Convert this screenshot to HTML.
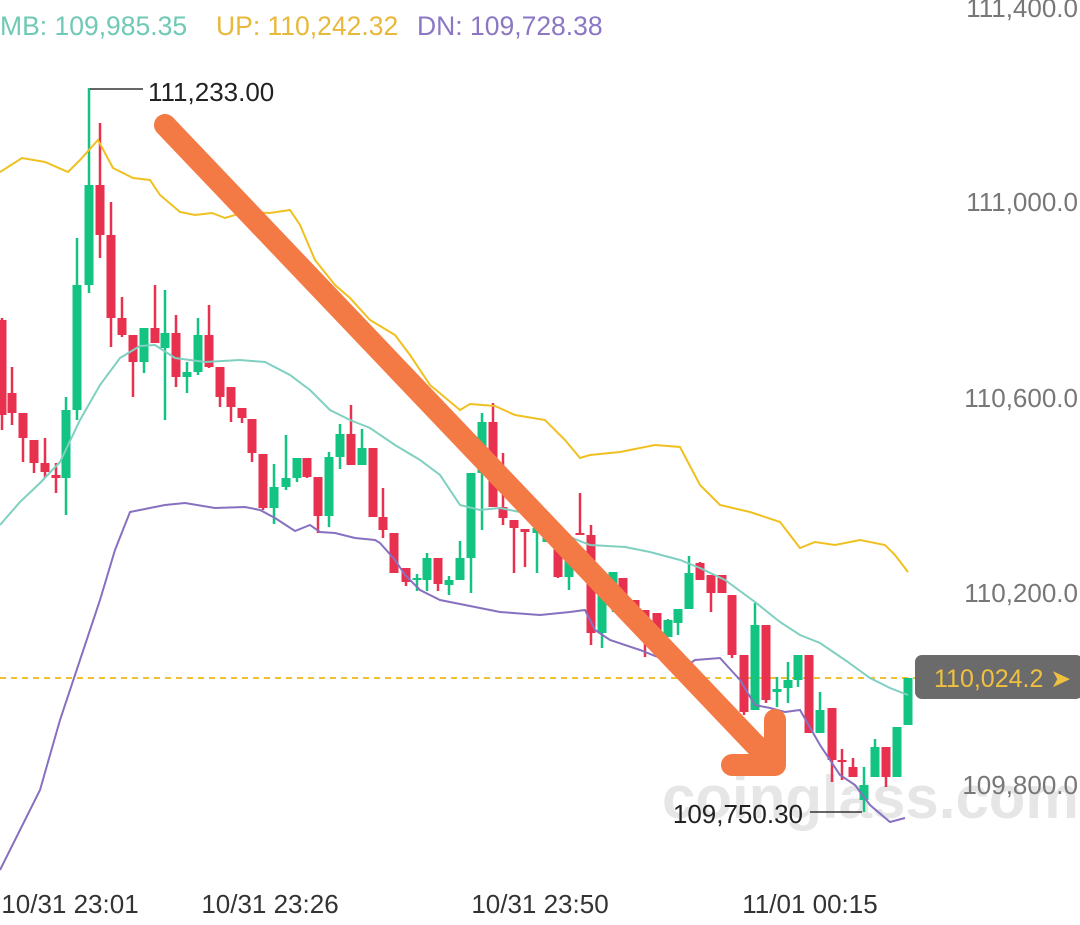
<!DOCTYPE html><html><head><style>body{margin:0;background:#fff;width:1080px;height:920px;overflow:hidden;font-family:"Liberation Sans",sans-serif}</style></head><body>
<svg id="s" width="1080" height="920" xmlns="http://www.w3.org/2000/svg" font-family="Liberation Sans, sans-serif">
<text x="662" y="818" font-size="60" font-weight="bold" fill="#e6e6e6">coinglass.com</text>
<line x1="0" y1="678" x2="915" y2="678" stroke="#f0c030" stroke-width="2" stroke-dasharray="6,5"/>
<g id="c"></g>
<polyline id="up" fill="none" stroke="#f0c020" stroke-width="2"/>
<polyline id="mb" fill="none" stroke="#7fd0c0" stroke-width="2"/>
<polyline id="dn" fill="none" stroke="#8870c0" stroke-width="2"/>
<g stroke="#f47a45" stroke-width="22" stroke-linecap="round" stroke-linejoin="round" fill="none">
<line x1="165" y1="125" x2="765" y2="755"/><polyline points="732,765 775,765 775,720"/></g>
<text x="0" y="35" font-size="26.5" fill="#6fc9b5">MB: 109,985.35</text>
<text x="216" y="35" font-size="26.5" fill="#e8b83a">UP: 110,242.32</text>
<text x="417" y="35" font-size="26.5" fill="#8b77c4">DN: 109,728.38</text>
<g font-size="26" fill="#777" text-anchor="end">
<text x="1078" y="17">111,400.0</text><text x="1078" y="211">111,000.0</text><text x="1078" y="407">110,600.0</text><text x="1078" y="602">110,200.0</text><text x="1078" y="794">109,800.0</text></g>
<g font-size="26" fill="#333" text-anchor="middle">
<text x="70" y="913">10/31 23:01</text><text x="270" y="913">10/31 23:26</text><text x="540" y="913">10/31 23:50</text><text x="810" y="913">11/01 00:15</text></g>
<line x1="90" y1="89" x2="143" y2="89" stroke="#333" stroke-width="1.5"/>
<text x="148" y="101" font-size="26" fill="#222">111,233.00</text>
<line x1="810" y1="812" x2="862" y2="812" stroke="#333" stroke-width="1.5"/>
<text x="803" y="823" font-size="26" fill="#222" text-anchor="end">109,750.30</text>
<rect x="915" y="655" width="168" height="44" rx="7" fill="#6b6b6b"/>
<text x="934" y="687" font-size="25" fill="#f0c040">110,024.2 ➤</text>
</svg>
<script>
var C=[[2,'r',320,415,318,430],[12,'r',393,413,367,425],[23,'r',413,438,413,462],[34,'r',440,463,440,473],[45,'r',463,472,438,478],[56,'r',475,478,463,493],[66,'g',478,410,397,515],[77,'g',410,285,238,420],[89,'g',285,185,88,293],[100,'r',185,235,123,258],[111,'r',235,318,202,347],[122,'r',318,335,297,337],[133,'r',335,362,335,397],[144,'g',362,328,328,373],[155,'r',328,343,285,343],[165,'g',348,333,290,420],[176,'r',333,377,315,387],[187,'g',377,372,362,393],[198,'g',372,335,318,375],[209,'r',335,367,305,368],[220,'r',367,397,367,407],[231,'r',387,407,387,422],[242,'r',408,418,408,423],[252,'r',419,453,419,462],[263,'r',454,508,454,510],[274,'g',508,487,464,524],[286,'g',487,478,435,490],[297,'g',478,458,458,482],[307,'r',458,477,458,478],[318,'r',477,516,477,533],[329,'g',516,457,452,527],[340,'g',457,434,424,469],[351,'r',434,465,405,465],[362,'g',465,448,429,465],[373,'r',448,517,448,517],[383,'r',517,530,488,538],[394,'r',533,573,533,573],[406,'r',568,582,568,586],[417,'g',580,578,574,591],[427,'g',580,558,553,591],[438,'r',558,584,558,591],[449,'g',585,580,576,595],[460,'g',580,558,541,580],[471,'g',558,473,473,593],[482,'g',473,422,413,530],[493,'r',422,507,403,507],[503,'r',507,518,453,525],[514,'r',520,528,520,573],[525,'r',529,532,529,567],[537,'g',533,528,503,573],[547,'g',542,515,512,542],[558,'r',537,577,537,578],[569,'g',577,557,557,590],[580,'r',533,535,493,535],[591,'r',535,633,525,645],[602,'g',633,592,592,648],[613,'g',600,572,572,612],[623,'r',578,610,578,612],[635,'r',600,620,600,625],[645,'r',610,640,610,657],[657,'r',613,637,613,637],[668,'g',637,620,619,637],[678,'g',623,609,609,635],[689,'g',609,573,556,609],[700,'r',563,580,562,580],[711,'r',575,593,575,612],[722,'r',575,593,575,593],[732,'r',595,655,595,658],[744,'r',655,712,655,715],[755,'g',710,625,603,710],[766,'r',625,700,625,703],[777,'g',692,689,677,707],[788,'g',688,680,662,703],[798,'g',680,655,655,687],[809,'r',655,733,655,733],[820,'g',733,710,692,733],[832,'r',708,760,708,782],[842,'r',760,762,749,780],[853,'r',767,777,758,777],[864,'g',800,785,767,812],[875,'g',777,747,739,777],[886,'r',747,777,747,787],[897,'g',777,727,727,777],[908,'g',725,678,678,725]];
var h='';C.forEach(function(c){var col=c[1]=='g'?'#12c382':'#e8304f';var t=Math.min(c[2],c[3]),b=Math.max(c[2],c[3]);h+='<line x1="'+c[0]+'" x2="'+c[0]+'" y1="'+c[4]+'" y2="'+c[5]+'" stroke="'+col+'" stroke-width="2.5"/><rect x="'+(c[0]-4.5)+'" y="'+t+'" width="9" height="'+Math.max(b-t,2)+'" fill="'+col+'"/>';});
document.getElementById('c').innerHTML=h;
document.getElementById('up').setAttribute('points','0,172 22,158 45,162 68,172 80,160 98,140 113,168 133,178 150,180 160,195 180,212 195,215 212,213 225,218 245,212 270,213 290,210 300,225 315,260 335,285 350,298 370,320 395,335 410,355 430,385 460,410 470,404 495,406 515,415 545,420 565,440 580,458 590,455 620,452 655,445 680,447 700,485 720,505 750,512 780,522 800,548 815,542 835,545 860,540 885,545 895,555 908,572');
document.getElementById('mb').setAttribute('points','0,525 20,502 40,483 60,462 80,420 100,385 120,358 140,346 155,345 175,358 205,362 240,360 265,362 290,375 310,390 330,410 350,420 370,428 395,445 420,460 440,475 460,505 480,510 500,508 520,512 545,520 565,535 590,545 625,547 650,552 680,560 700,568 725,580 755,602 780,622 800,635 820,643 845,660 870,678 890,688 908,695');
document.getElementById('dn').setAttribute('points','0,870 20,830 40,790 60,720 80,660 100,600 115,550 130,512 150,508 165,505 185,503 215,508 245,507 260,510 275,518 295,531 310,525 320,532 335,533 355,538 375,540 380,543 395,560 405,575 420,590 440,600 470,606 500,612 540,615 570,612 585,610 595,630 610,640 640,650 665,660 680,670 695,660 720,658 740,680 755,705 770,708 785,712 800,710 820,745 840,775 855,785 870,805 890,822 905,818');
</script></body></html>
